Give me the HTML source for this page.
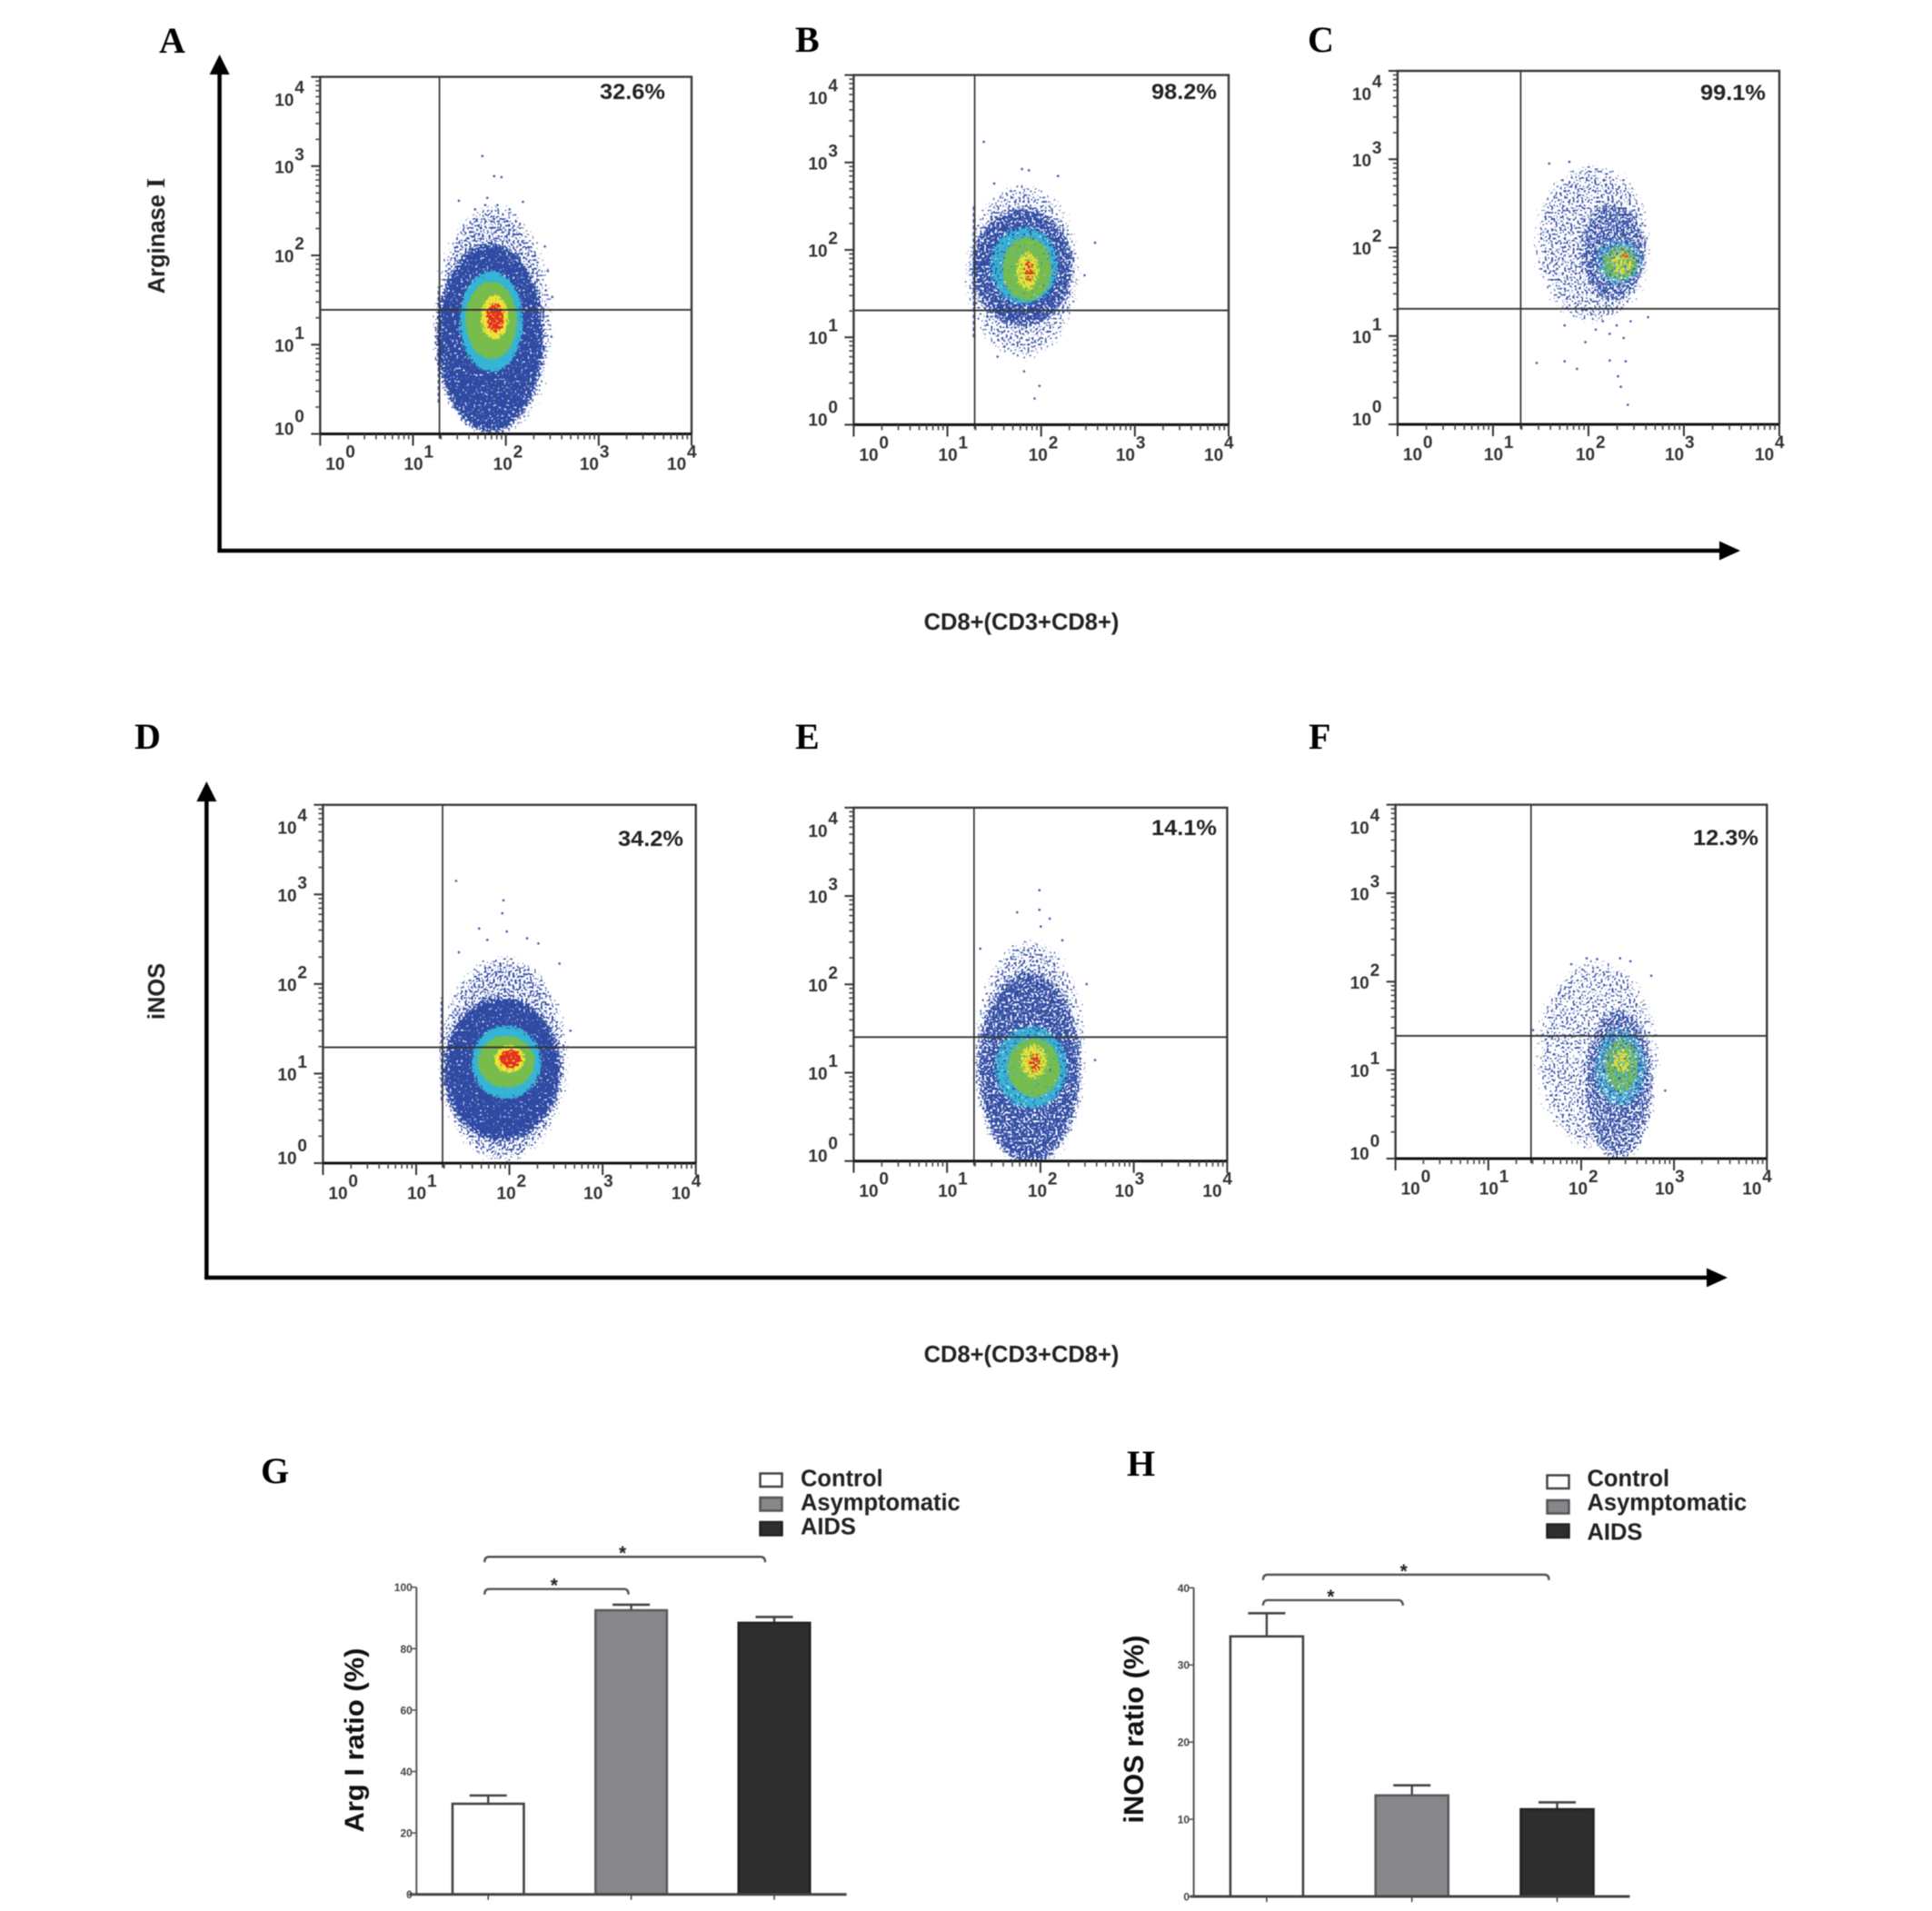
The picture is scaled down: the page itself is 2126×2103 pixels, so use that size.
<!DOCTYPE html>
<html lang="en">
<head>
<meta charset="utf-8">
<title>Arginase I and iNOS flow cytometry figure</title>
<style>
html,body{margin:0;padding:0;background:#fff;}
svg{display:block;filter:blur(0.5px);}
text{font-family:"Liberation Sans",sans-serif;}
.letter{font-family:"Liberation Serif",serif;font-weight:bold;font-size:40px;fill:#000;}
.axis-title{font-weight:bold;font-size:25.5px;fill:#222;}
.legend-text{font-weight:bold;font-size:25.5px;fill:#222;}
</style>
</head>
<body>
<svg id="figure" xmlns="http://www.w3.org/2000/svg" width="2126" height="2103" viewBox="0 0 2126 2103">
  <defs id="figure-defs"></defs>
  <rect x="0" y="0" width="2126" height="2103" fill="#fff"/>

  <text class="letter" x="175" y="58">A</text>
  <text class="letter" x="875" y="57">B</text>
  <text class="letter" x="1439" y="57">C</text>
  <text class="letter" x="148" y="824">D</text>
  <text class="letter" x="875" y="824">E</text>
  <text class="letter" x="1440" y="824">F</text>
  <text class="letter" x="287" y="1632">G</text>
  <text class="letter" x="1240" y="1624">H</text>

  <g>
    <line x1="241.6" y1="78" x2="241.6" y2="608" stroke="#000" stroke-width="4.5"/>
    <polygon points="241.6,60 230.6,82 252.6,82" fill="#000"/>
    <line x1="239.4" y1="606" x2="1896" y2="606" stroke="#000" stroke-width="4.5"/>
    <polygon points="1915,606 1892,595.5 1892,616.5" fill="#000"/>
  </g>
  <text class="axis-title" transform="translate(181,259.5) rotate(-90)" text-anchor="middle">Arginase <tspan font-family="Liberation Serif" font-size="29">I</tspan></text>
  <text class="axis-title" x="1124" y="693" text-anchor="middle">CD8+(CD3+CD8+)</text>

  <g>
    <line x1="227.3" y1="878" x2="227.3" y2="1408" stroke="#000" stroke-width="4.5"/>
    <polygon points="227.3,860 216.3,882 238.3,882" fill="#000"/>
    <line x1="225" y1="1406" x2="1882" y2="1406" stroke="#000" stroke-width="4.5"/>
    <polygon points="1901,1406 1878,1395.5 1878,1416.5" fill="#000"/>
  </g>
  <text class="axis-title" transform="translate(181,1091) rotate(-90)" text-anchor="middle">iNOS</text>
  <text class="axis-title" x="1124" y="1499" text-anchor="middle">CD8+(CD3+CD8+)</text>

  <g>
    <rect x="836.5" y="1621.5" width="24" height="14.5" fill="#fff" stroke="#444" stroke-width="2.5"/>
    <text class="legend-text" x="881" y="1635.5">Control</text>
    <rect x="836.5" y="1648" width="24" height="14.5" fill="#87878b" stroke="#555" stroke-width="2.5"/>
    <text class="legend-text" x="881" y="1662">Asymptomatic</text>
    <rect x="836.5" y="1675" width="24" height="14.5" fill="#2e2e2e" stroke="#222" stroke-width="2.5"/>
    <text class="legend-text" x="881" y="1688.5">AIDS</text>
  </g>
  <g>
    <rect x="1702.5" y="1623.5" width="24" height="14.5" fill="#fff" stroke="#444" stroke-width="2.5"/>
    <text class="legend-text" x="1746.5" y="1635.5">Control</text>
    <rect x="1702.5" y="1651" width="24" height="14.5" fill="#87878b" stroke="#555" stroke-width="2.5"/>
    <text class="legend-text" x="1746.5" y="1662">Asymptomatic</text>
    <rect x="1702.5" y="1677.5" width="24" height="14.5" fill="#2e2e2e" stroke="#222" stroke-width="2.5"/>
    <text class="legend-text" x="1746.5" y="1694.5">AIDS</text>
  </g>
  <text transform="translate(400,1915) rotate(-90)" text-anchor="middle" font-size="30" font-weight="bold" fill="#111" textLength="203" lengthAdjust="spacingAndGlyphs">Arg I ratio (%)</text>
  <text transform="translate(1258,1903) rotate(-90)" text-anchor="middle" font-size="30.5" font-weight="bold" fill="#111" textLength="207" lengthAdjust="spacingAndGlyphs">iNOS ratio (%)</text>
</svg>

<script>
// ===== Flow cytometry data (all values in log10 decades of the axes) =====
const flowDecades = [0, 1, 2, 3, 4];
const flowMinorLogs = [0.301, 0.477, 0.602, 0.699, 0.778, 0.845, 0.903, 0.954];
const flowPercentLabels = ['32.6%', '98.2%', '99.1%', '34.2%', '14.1%', '12.3%'];

// density contours: [centerX, centerY, radiusX, radiusY, density], outermost to innermost
const contoursA = [[1.866,1.262,0.67,1.35,0.5],[1.83,1.08,0.61,1.09,0.7],[1.843,1.262,0.35,0.58,0.85],[1.843,1.273,0.284,0.444,0.9],[1.879,1.307,0.162,0.262,0.75],[1.885,1.30,0.109,0.182,0.68]];
const contoursB = [[1.8,1.757,0.65,1.05,0.47],[1.8,1.804,0.58,0.716,0.62],[1.818,1.818,0.386,0.468,0.66],[1.848,1.78,0.282,0.382,0.72],[1.855,1.757,0.141,0.239,0.62],[1.87,1.757,0.067,0.143,0.58]];
const contoursC = [[2.041,2.05,0.656,0.95,0.47],[2.258,1.95,0.38,0.6,0.55],[2.318,1.837,0.27,0.293,0.52],[2.33,1.82,0.21,0.222,0.58],[2.354,1.82,0.131,0.151,0.55],[2.39,1.915,0.058,0.057,0.55]];
const contoursD = [[1.936,1.159,0.73,1.196,0.5],[1.92,1.05,0.66,0.833,0.72],[1.967,1.126,0.38,0.416,0.9],[1.967,1.13,0.313,0.297,0.9],[2.0,1.159,0.174,0.163,0.78],[2.011,1.166,0.13,0.116,0.72]];
const contoursE = [[1.892,1.2,0.64,1.37,0.47],[1.877,1.058,0.59,1.133,0.6],[1.9,1.058,0.41,0.495,0.66],[1.93,1.058,0.298,0.354,0.72],[1.93,1.128,0.164,0.213,0.62],[1.937,1.115,0.082,0.128,0.58]];
const contoursF = [[2.171,1.171,0.711,1.13,0.45],[2.404,0.842,0.411,0.896,0.55],[2.419,1.028,0.3,0.472,0.55],[2.433,1.052,0.21,0.33,0.58],[2.433,1.1,0.112,0.165,0.55]];

// individual events read outside the dense cluster: [logX, logY]
const outliersA = [[1.747,3.113],[1.874,2.888],[1.953,2.877],[1.494,2.612],[1.8,2.644],[1.778,2.564],[1.909,2.564],[2.184,2.60],[1.669,2.516],[2.04,2.516],[2.42,2.10],[2.453,1.826],[2.5,1.534],[2.49,1.09]];
const outliersB = [[1.388,3.236],[1.795,2.925],[1.87,2.91],[2.18,2.845],[1.499,2.759],[1.982,0.444],[1.93,0.30],[1.818,0.611],[1.535,0.778],[2.575,2.082],[2.463,1.709]];
const outliersC = [[1.589,2.951],[1.8,2.971],[1.458,0.695],[1.75,0.714],[1.88,0.628],[2.223,0.723],[2.39,0.714],[2.31,0.544],[2.339,0.426],[2.412,0.222],[1.75,1.12],[1.968,0.931],[2.077,1.072],[2.223,1.025],[2.369,0.978],[2.15,1.167],[2.442,1.167],[2.296,1.12],[2.624,1.213]];
const outliersD = [[1.428,3.151],[1.936,2.934],[1.924,2.789],[1.675,2.619],[1.972,2.586],[1.458,2.354],[2.189,2.51],[2.311,2.452],[1.763,2.492],[2.537,2.227],[2.655,1.478]];
const outliersE = [[1.989,3.066],[1.751,2.815],[1.989,2.844],[2.004,2.655],[2.1,2.744],[1.356,2.404],[2.495,2.003],[2.585,1.143],[2.235,2.499]];
const outliersF = [[2.059,2.264],[2.171,2.255],[2.419,2.264],[2.531,2.231],[2.755,2.067],[1.894,2.198],[1.767,1.878],[2.905,0.769],[1.482,1.453]];

// events piled up at the low edge of the x channel: [logX, logYLow, logYHigh]
const pileupA = [1.275, 0.35, 1.65];
const pileupB = [1.28, 1.0, 2.5];
const pileupC = null;
const pileupD = [1.272, 0.7, 1.85];
const pileupE = null;
const pileupF = null;

// quadrant gates: [logX, logY]
const gateA = [1.285, 1.39];
const gateB = [1.291, 1.308];
const gateC = [1.29, 1.308];
const gateD = [1.283, 1.293];
const gateE = [1.289, 1.403];
const gateF = [1.46, 1.387];

// ===== Bar chart data =====
const barCategories = ['control', 'asymptomatic', 'aids'];
const argRatioValues = [29.5, 92.5, 88.4];
const argRatioUpperErrors = [32.2, 94.3, 90.3];
const argRatioTicks = [0, 20, 40, 60, 80, 100];
const argRatioBrackets = [[0, 2, 109.9, -10], [0, 1, 99.4, -3]];
const inosRatioValues = [33.7, 13.1, 11.3];
const inosRatioUpperErrors = [36.7, 14.4, 12.2];
const inosRatioTicks = [0, 10, 20, 30, 40];
const inosRatioBrackets = [[0, 2, 41.7, -9], [0, 1, 38.4, -10]];

// ===== Layout =====
const SVG_NS = 'http://www.w3.org/2000/svg';
const figure = document.getElementById('figure');
const figureDefs = document.getElementById('figure-defs');
const levelColors = ['#2f4aa3', '#2f4aa3', '#35b4d6', '#78bd4c', '#efe23a', '#e5301f'];
const levelBlurs = [8, 5, 3.5, 3, 2.5, 2];
const levelNames = ['sparse', 'blue', 'cyan', 'green', 'yellow', 'red'];
const xLabelNudge = [6, -10, -14, -21, -27];
const yLabelDrop = [1, 7.5, 7.5, 7.5, 32];

function add(parent, tag, attrs, text) {
  const node = document.createElementNS(SVG_NS, tag);
  for (const key in attrs) node.setAttribute(key, attrs[key]);
  if (text !== undefined) node.textContent = text;
  parent.appendChild(node);
  return node;
}

let filterMarkup = '';
levelColors.forEach(function (color, i) {
  filterMarkup += '<filter id="speckle-' + i + '" x="-40%" y="-40%" width="180%" height="180%" color-interpolation-filters="sRGB">' +
    '<feGaussianBlur in="SourceAlpha" stdDeviation="' + levelBlurs[i] + '" result="soft"/>' +
    '<feTurbulence type="fractalNoise" baseFrequency="0.42" numOctaves="1" seed="' + (7 + i) + '" result="noise"/>' +
    '<feComposite in="soft" in2="noise" operator="arithmetic" k1="0" k2="1" k3="1" k4="-1" result="sum"/>' +
    '<feColorMatrix in="sum" type="matrix" values="0 0 0 0 0 0 0 0 0 0 0 0 0 0 0 0 0 0 10 0" result="mask"/>' +
    '<feFlood flood-color="' + color + '"/>' +
    '<feComposite in2="mask" operator="in"/>' +
    '</filter>';
});
figureDefs.innerHTML = filterMarkup;

function drawFlowPanel(key, left, right, top, bottom, contours, outliers, pileup, gate, percentLabel, percentX, percentY) {
  const xAxis = function (v) { return left + (right - left) * v / 4; };
  const yAxis = function (v) { return bottom - (bottom - top) * v / 4; };
  const panel = add(figure, 'g', {});
  
  

  const clip = add(figureDefs, 'clipPath', { id: 'plot-clip-' + key });
  add(clip, 'rect', { x: left, y: top, width: right - left, height: bottom - top });

  const cluster = add(panel, 'g', { 'clip-path': 'url(#plot-clip-' + key + ')' });
  
  
  contours.forEach(function (c, i) {
    const blob = add(cluster, 'ellipse', {
      cx: xAxis(c[0]), cy: yAxis(c[1]),
      rx: xAxis(c[2]) - xAxis(0), ry: yAxis(0) - yAxis(c[3]),
      fill: '#000', 'fill-opacity': c[4], filter: 'url(#speckle-' + i + ')'
    });
    
    
  });
  if (pileup) {
    const strip = add(cluster, 'line', {
      x1: xAxis(pileup[0]), x2: xAxis(pileup[0]), y1: yAxis(pileup[1]), y2: yAxis(pileup[2]),
      stroke: '#2f4aa3', 'stroke-width': 2.2, 'stroke-dasharray': '4 3', 'stroke-opacity': 0.8
    });
    
    
  }
  outliers.forEach(function (p) {
    const dot = add(cluster, 'circle', { cx: xAxis(p[0]), cy: yAxis(p[1]), r: 1.3, fill: '#4158ad' });
    
    
  });

  const vGate = add(panel, 'line', { x1: xAxis(gate[0]), x2: xAxis(gate[0]), y1: top, y2: bottom + 5, stroke: '#333', 'stroke-width': 1.7 });
  
  
  const hGate = add(panel, 'line', { x1: left, x2: right, y1: yAxis(gate[1]), y2: yAxis(gate[1]), stroke: '#333', 'stroke-width': 1.9 });
  
  

  const frame = add(panel, 'path', {
    d: 'M' + left + ' ' + bottom + 'V' + top + 'H' + right + 'V' + bottom,
    fill: 'none', stroke: '#3a3a3a', 'stroke-width': 2.4
  });
  
  
  const base = add(panel, 'line', { x1: left, x2: right, y1: bottom, y2: bottom, stroke: '#111', 'stroke-width': 3 });
  
  

  flowDecades.forEach(function (d, i) {
    const xTick = add(panel, 'line', { x1: xAxis(d), x2: xAxis(d), y1: bottom, y2: bottom + 13, stroke: '#333', 'stroke-width': 2 });
    
    
    const yTick = add(panel, 'line', { x1: left - 10, x2: left, y1: yAxis(d), y2: yAxis(d), stroke: '#333', 'stroke-width': 2 });
    
    

    const xBase = add(panel, 'text', { x: xAxis(d) + xLabelNudge[i], y: bottom + 39.5, 'font-size': 19, 'font-weight': 'bold', fill: '#333' }, '10');
    
    
    const xExp = add(panel, 'text', { x: xAxis(d) + xLabelNudge[i] + 22, y: bottom + 26, 'font-size': 19, 'font-weight': 'bold', fill: '#333' }, String(d));
    
    

    const yBase = add(panel, 'text', { x: left - 50, y: yAxis(d) + yLabelDrop[i], 'font-size': 19, 'font-weight': 'bold', fill: '#333' }, '10');
    
    
    const yExp = add(panel, 'text', { x: left - 28, y: yAxis(d) + yLabelDrop[i] - 14, 'font-size': 19, 'font-weight': 'bold', fill: '#333' }, String(d));
    
    

    if (d < 4) {
      flowMinorLogs.forEach(function (m) {
        const xMinor = add(panel, 'line', { x1: xAxis(d + m), x2: xAxis(d + m), y1: bottom, y2: bottom + 6, stroke: '#444', 'stroke-width': 1.6 });
        
        
        const yMinor = add(panel, 'line', { x1: left - 5, x2: left, y1: yAxis(d + m), y2: yAxis(d + m), stroke: '#444', 'stroke-width': 1.6 });
        
        
      });
    }
  });

  const percent = add(panel, 'text', { x: percentX, y: percentY, 'font-size': 24, 'font-weight': 'bold', fill: '#222', textLength: 72, lengthAdjust: 'spacingAndGlyphs' }, percentLabel);
  
  
}

drawFlowPanel('a', 352.3, 761, 84.6, 477.5, contoursA, outliersA, pileupA, gateA, flowPercentLabels[0], 660, 109);
drawFlowPanel('b', 939.4, 1352, 82.6, 467.4, contoursB, outliersB, pileupB, gateB, flowPercentLabels[1], 1267, 109);
drawFlowPanel('c', 1537.9, 1958, 78, 467, contoursC, outliersC, pileupC, gateC, flowPercentLabels[2], 1871, 110);
drawFlowPanel('d', 355.4, 765.7, 885.7, 1280, contoursD, outliersD, pileupD, gateD, flowPercentLabels[3], 680, 931);
drawFlowPanel('e', 939.4, 1350.4, 888.8, 1277.7, contoursE, outliersE, pileupE, gateE, flowPercentLabels[4], 1267, 919);
drawFlowPanel('f', 1535.6, 1944.3, 885.6, 1275, contoursF, outliersF, pileupF, gateF, flowPercentLabels[5], 1863, 930);

const barFills = ['#ffffff', '#87878b', '#2e2e2e'];
const barStrokes = ['#444444', '#5a5a5e', '#222222'];

function drawBarChart(key, axisX, axisEndX, axisStartX, topY, baseY, maxValue, firstCenter, spacing, barWidth, capHalf, values, uppers, ticks, brackets) {
  const yAxis = function (v) { return baseY - (baseY - topY) * v / maxValue; };
  const xAxis = function (i) { return firstCenter + spacing * i; };
  const chart = add(figure, 'g', {});
  
  

  values.forEach(function (v, i) {
    const stem = add(chart, 'line', { x1: xAxis(i), x2: xAxis(i), y1: yAxis(v), y2: yAxis(uppers[i]), stroke: '#444', 'stroke-width': 2.4 });
    
    
    const cap = add(chart, 'line', { x1: xAxis(i) - capHalf, x2: xAxis(i) + capHalf, y1: yAxis(uppers[i]), y2: yAxis(uppers[i]), stroke: '#444', 'stroke-width': 2.6 });
    
    
    const bar = add(chart, 'rect', {
      x: xAxis(i) - barWidth / 2, y: yAxis(v), width: barWidth, height: yAxis(0) - yAxis(v),
      fill: barFills[i], stroke: barStrokes[i], 'stroke-width': 2.6
    });
    
    
    const catTick = add(chart, 'line', { x1: xAxis(i), x2: xAxis(i), y1: baseY, y2: baseY + 6, stroke: '#444', 'stroke-width': 1.6 });
    
    
  });

  const yLine = add(chart, 'line', { x1: axisX, x2: axisX, y1: topY, y2: baseY, stroke: '#555', 'stroke-width': 2 });
  
  
  const xLine = add(chart, 'line', { x1: axisStartX, x2: axisEndX, y1: baseY, y2: baseY, stroke: '#444', 'stroke-width': 3 });
  
  

  ticks.forEach(function (t) {
    const tick = add(chart, 'line', { x1: axisX - 5, x2: axisX, y1: yAxis(t), y2: yAxis(t), stroke: '#555', 'stroke-width': 1.6 });
    
    
    const label = add(chart, 'text', { x: axisX - 4.5, y: yAxis(t) + 4.5, 'font-size': 12, 'font-weight': 'bold', fill: '#444', 'text-anchor': 'end' }, String(t));
    
    
  });

  brackets.forEach(function (b, i) {
    const x1 = xAxis(b[0]) - 4;
    const x2 = xAxis(b[1]) + b[3];
    const y = yAxis(b[2]);
    const bracket = add(chart, 'path', {
      d: 'M' + x1 + ' ' + (y + 6) + 'Q' + x1 + ' ' + y + ' ' + (x1 + 5) + ' ' + y + 'H' + (x2 - 5) + 'Q' + x2 + ' ' + y + ' ' + x2 + ' ' + (y + 6),
      fill: 'none', stroke: '#555', 'stroke-width': 2.4
    });
    
    
    const star = add(chart, 'text', { x: (x1 + x2) / 2 - 2.5, y: y + 3, 'font-size': 21, 'font-weight': 'bold', fill: '#222', 'text-anchor': 'middle' }, '*');
    
    
  });
}

drawBarChart('g', 458.3, 931.6, 450, 1746.7, 2084.7, 100, 537.2, 157.4, 78.5, 20.5, argRatioValues, argRatioUpperErrors, argRatioTicks, argRatioBrackets);
drawBarChart('h', 1313.6, 1793.4, 1309.7, 1747.3, 2087, 40, 1393.9, 159.8, 80, 20.5, inosRatioValues, inosRatioUpperErrors, inosRatioTicks, inosRatioBrackets);
</script>
</body>
</html>
